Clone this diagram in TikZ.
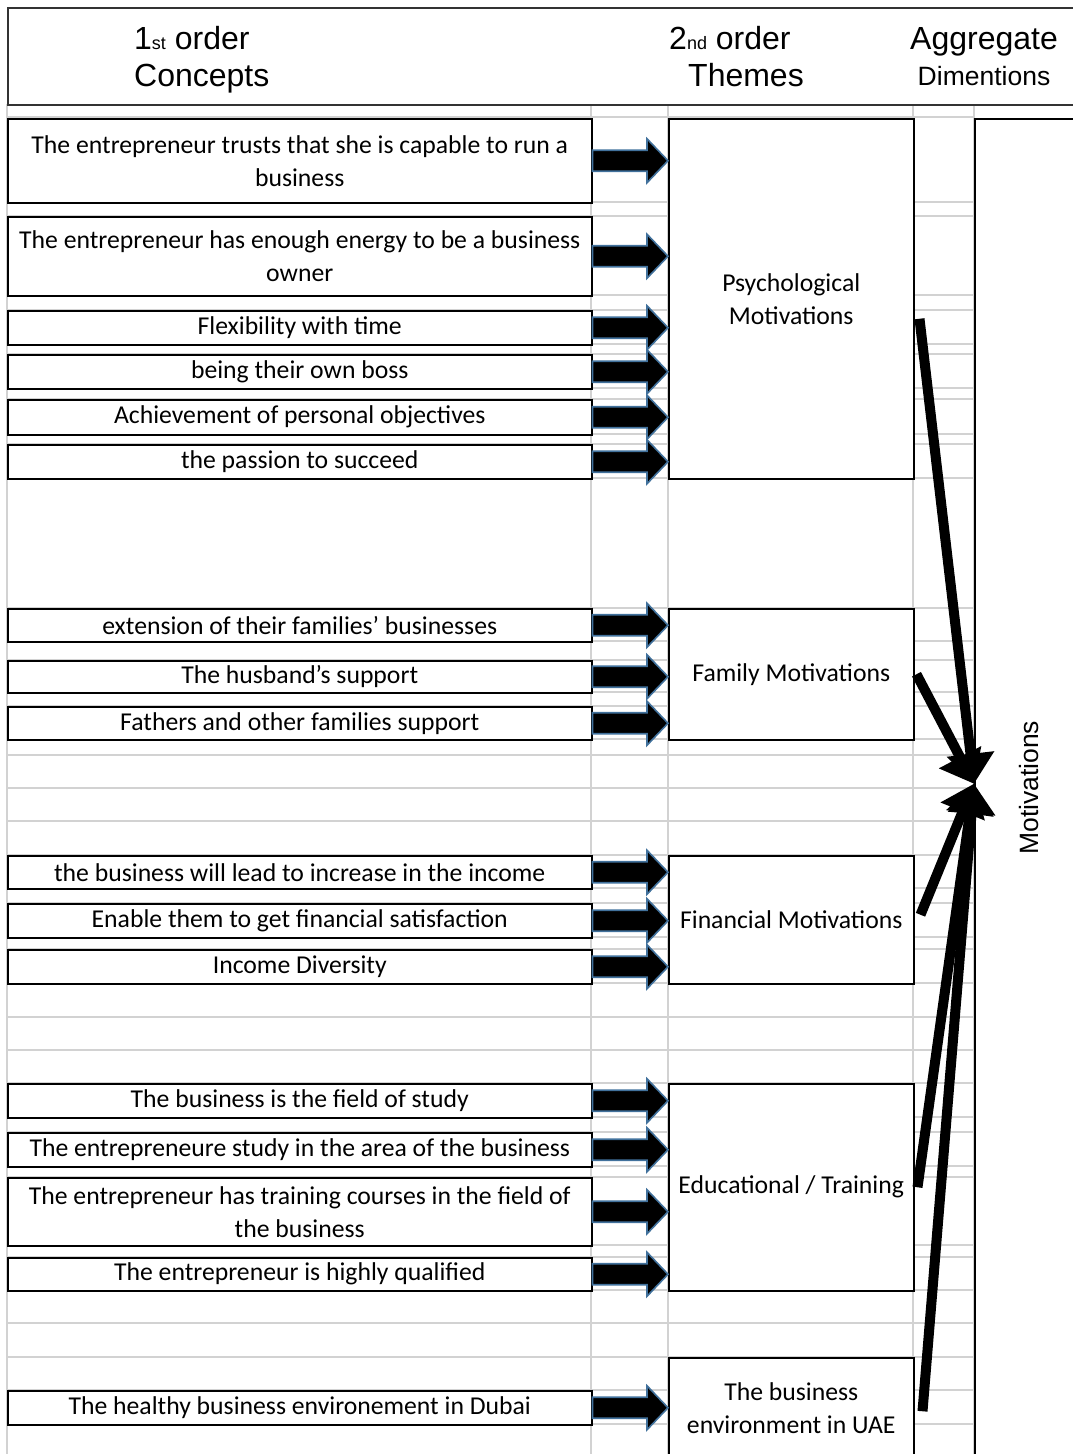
\documentclass[tikz,border=0pt]{standalone}
\usepackage{fontspec}
\setmainfont{Carlito}
\newfontfamily\arialfont{Liberation Sans}
\usetikzlibrary{arrows.meta, calc}
\definecolor{gridgray}{HTML}{D2D2D2}
\definecolor{arrowblue}{HTML}{41719C}

\begin{document}
\begin{tikzpicture}[
    x=1pt, y=-1pt,
    concept/.style={rectangle, draw, line width=1.5pt, fill=white, anchor=north west, minimum width=584, inner sep=0pt, align=center, font=\fontsize{25.7}{33}\selectfont},
    theme/.style={rectangle, draw, line width=1.5pt, fill=white, anchor=north west, minimum width=245, inner sep=0pt, align=center, font=\fontsize{25.7}{33}\selectfont},
    heading/.style={inner sep=0pt, font=\arialfont\fontsize{32}{36}\selectfont},
    smallheading/.style={inner sep=0pt, font=\arialfont\fontsize{26.5}{30}\selectfont},
    gridline/.style={draw=gridgray, line width=1.5pt},
    blockarrow/.style={draw=arrowblue, fill=black, line width=1.6pt, line join=miter},
    bigarrow/.style={line width=10pt, -{Triangle[length=30pt, width=46pt]}}
]
\useasboundingbox (0,0) rectangle (1073,1454);
\clip (0,0) rectangle (1073,1454);

% sheet grid
\foreach \y in {117,202,216,295,310,344,354,388,399,434,444,478,608,641,660,692,706,739,755,788,821,855,888,903,937,949,983,1017,1050,1083,1117,1132,1166,1177,1245,1257,1290,1323,1357,1390,1424}
    \draw[gridline] (7,\y) -- (974,\y);
\foreach \x in {7,591,668,913,974}
    \draw[gridline] (\x,104) -- (\x,1454);

% header row
\node[draw=black!80, line width=1.5pt, fill=white, anchor=north west, minimum width=1090, minimum height=97, inner sep=0pt] (header) at (7,7) {};
\node[heading, anchor=base west] (order1) at (134,49) {1{\fontsize{18}{18}\selectfont st} order};
\node[heading, anchor=base west] (concepts) at (134,86) {Concepts};
\node[heading, anchor=base west] (order2) at (669,49) {2{\fontsize{18}{18}\selectfont nd} order};
\node[heading, anchor=base west] (themes) at (688,86) {Themes};
\node[heading, anchor=base] (aggregate) at (984,49) {Aggregate};
\node[smallheading, anchor=base] (dimentions) at (984,85) {Dimentions};

% 1st order concepts
\node[concept, minimum height=84] (trust) at (7,118) {The entrepreneur trusts that she is capable to run a\\business};
\node[concept, minimum height=79] (energy) at (7,216) {The entrepreneur has enough energy to be a business\\owner};
\node[concept, minimum height=34] (flex) at (7,310) {Flexibility with time};
\node[concept, minimum height=34] (boss) at (7,354) {being their own boss};
\node[concept, minimum height=35] (achieve) at (7,399) {Achievement of personal objectives};
\node[concept, minimum height=34] (passion) at (7,444) {the passion to succeed};
\node[concept, minimum height=33] (extend) at (7,608) {extension of their families’ businesses};
\node[concept, minimum height=32] (husband) at (7,660) {The husband’s support};
\node[concept, minimum height=33] (fathers) at (7,706) {Fathers and other families support};
\node[concept, minimum height=33] (income) at (7,855) {the business will lead to increase in the income};
\node[concept, minimum height=34] (satisfy) at (7,903) {Enable them to get financial satisfaction};
\node[concept, minimum height=34] (diverse) at (7,949) {Income Diversity};
\node[concept, minimum height=34] (field) at (7,1083) {The business is the field of study};
\node[concept, minimum height=34] (study) at (7,1132) {The entrepreneure study in the area of the business};
\node[concept, minimum height=68] (courses) at (7,1177) {The entrepreneur has training courses in the field of\\the business};
\node[concept, minimum height=33] (qualified) at (7,1257) {The entrepreneur is highly qualified};
\node[concept, minimum height=34] (healthy) at (7,1390) {The healthy business environement in Dubai};

% 2nd order themes
\node[theme, minimum height=360] (psych) at (668,118) {Psychological\\Motivations};
\node[theme, minimum height=131] (family) at (668,608) {Family Motivations};
\node[theme, minimum height=128] (financial) at (668,855) {Financial Motivations};
\node[theme, minimum height=207] (educ) at (668,1083) {Educational / Training};
\node[theme, minimum height=101] (uae) at (668,1357) {The business\\environment in UAE};

% aggregate dimension
\node[draw, line width=1.5pt, fill=white, anchor=north west, minimum width=108, minimum height=1338, inner sep=0pt] (motiv) at (974,118) {};
\node[smallheading, rotate=90] (motivlabel) at (motiv.center) {Motivations};

% block arrows concept -> theme
\foreach \c/\t in {trust/psych, energy/psych, flex/psych, boss/psych, achieve/psych, passion/psych,
                   extend/family, husband/family, fathers/family,
                   income/financial, satisfy/financial, diverse/financial,
                   field/educ, study/educ, courses/educ, qualified/educ,
                   healthy/uae} {
    \coordinate (tip) at (\c.east -| \t.west);
    \draw[blockarrow] ($(\c.east)+(0,-10.5)$) -- ($(tip)+(-21,-10.5)$) -- ($(tip)+(-21,-22)$) -- (tip)
        -- ($(tip)+(-21,22)$) -- ($(tip)+(-21,10.5)$) -- ($(\c.east)+(0,10.5)$) -- cycle;
}

% theme -> aggregate
\coordinate (hub) at ($(motiv.west)+(0,-4)$);
\draw[bigarrow] ($(psych.east)+(5,20)$) -- (hub);
\draw[bigarrow] ($(family.east)+(2,0)$) -- (hub);
\draw[bigarrow] ($(financial.east)+(6,-5)$) -- (hub);
\draw[bigarrow] ($(educ.east)+(3,0)$) -- (hub);
\draw[bigarrow] ($(uae.east)+(8,3)$) -- (hub);

\end{tikzpicture}
\end{document}
